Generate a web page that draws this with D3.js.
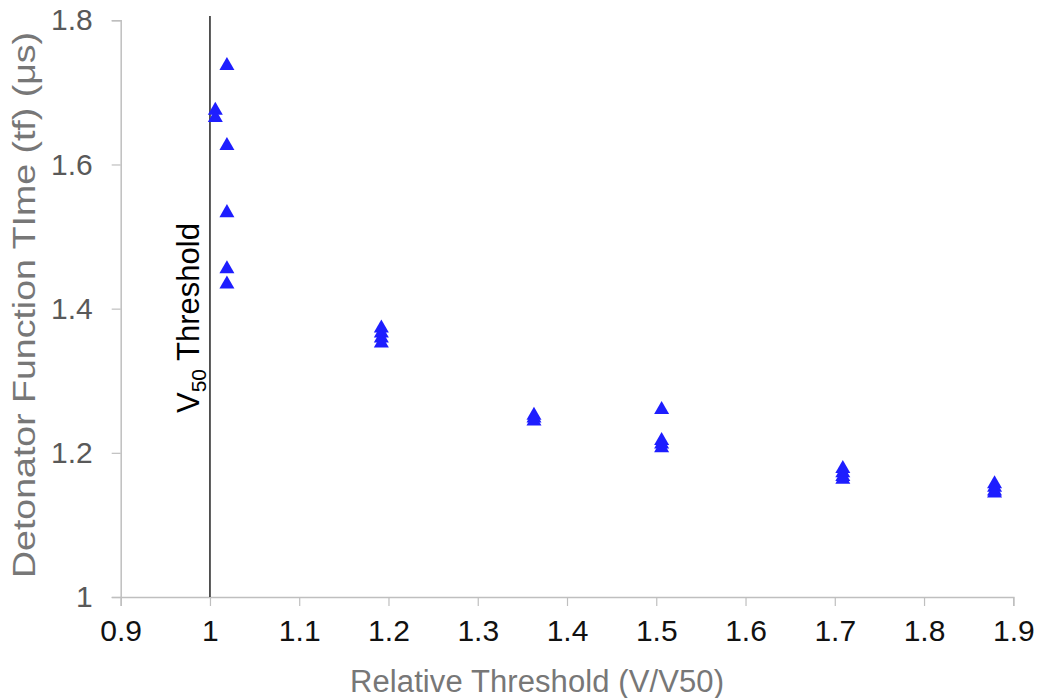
<!DOCTYPE html>
<html>
<head>
<meta charset="utf-8">
<script src="https://cdn.jsdelivr.net/npm/d3@7"></script>
<style>
  html, body { margin: 0; padding: 0; background: #fff; }
  svg { display: block; font-family: "Liberation Sans", Arial, Helvetica, sans-serif; }
</style>
</head>
<body>
<svg id="chart" width="1039" height="698"></svg>
<script>
// Relative threshold (V/V50) for each shot group
const relThreshold = [1.019, 1.006, 1.192, 1.363, 1.506, 1.709, 1.879];
// Detonator function time (µs) measured at each relative threshold
const functionTime = [
  [1.740, 1.629, 1.536, 1.458, 1.437],
  [1.678, 1.668],
  [1.376, 1.369, 1.362, 1.355],
  [1.255, 1.251, 1.247],
  [1.263, 1.220, 1.215, 1.210],
  [1.181, 1.175, 1.170, 1.166],
  [1.160, 1.155, 1.150, 1.147]
];
const xTicks = [0.9, 1, 1.1, 1.2, 1.3, 1.4, 1.5, 1.6, 1.7, 1.8, 1.9];
const yTicks = [1, 1.2, 1.4, 1.6, 1.8];
const v50 = 1.0;

const points = relThreshold.flatMap((x, i) => functionTime[i].map(y => ({ x, y })));

const svg = d3.select("#chart");

const x = d3.scaleLinear().domain([0.9, 1.9]).range([120.7, 1013.3]);
const y = d3.scaleLinear().domain([1, 1.8]).range([597, 20.3]);

const axisGrey = "#bfbfbf";

// x axis
const gx = svg.append("g")
  .attr("transform", `translate(0,${y(1)})`)
  .call(d3.axisBottom(x).tickValues(xTicks).tickSize(9).tickPadding(14)
    .tickFormat(d3.format("~g")));
gx.select(".domain").attr("stroke", axisGrey).attr("stroke-width", 1.5);
gx.selectAll(".tick line").attr("stroke", axisGrey).attr("stroke-width", 1.2);
gx.selectAll(".tick text")
  .attr("fill", "#111").attr("font-size", 30).attr("dy", "0.71em")
  .attr("font-family", "Liberation Sans, Arial, sans-serif");

// y axis
const gy = svg.append("g")
  .attr("transform", `translate(${x(0.9)},0)`)
  .call(d3.axisLeft(y).tickValues(yTicks).tickSize(9).tickPadding(19)
    .tickFormat(d3.format("~g")));
gy.select(".domain").attr("stroke", axisGrey).attr("stroke-width", 1.5);
gy.selectAll(".tick line").attr("stroke", axisGrey).attr("stroke-width", 1.2);
gy.selectAll(".tick text")
  .attr("fill", "#595959").attr("font-size", 30)
  .attr("font-family", "Liberation Sans, Arial, sans-serif");

// axis titles
svg.append("text")
  .attr("x", (x(0.9) + x(1.9)) / 2 - 30)
  .attr("y", 692)
  .attr("text-anchor", "middle")
  .attr("fill", "#777")
  .attr("font-size", 31)
  .attr("textLength", 374)
  .text("Relative Threshold (V/V50)");

svg.append("text")
  .attr("transform", "translate(35,305) rotate(-90)")
  .attr("text-anchor", "middle")
  .attr("fill", "#777")
  .attr("font-size", 32)
  .attr("textLength", 546)
  .attr("lengthAdjust", "spacingAndGlyphs")
  .text("Detonator Function TIme (tf) (μs)");

// V50 threshold reference line
svg.append("line")
  .attr("x1", x(v50)).attr("x2", x(v50))
  .attr("y1", 16).attr("y2", y(1))
  .attr("stroke", "#111").attr("stroke-width", 1.4);

const v50Label = svg.append("text")
  .attr("transform", `translate(199,413) rotate(-90)`)
  .attr("fill", "#000")
  .attr("font-size", 31);
v50Label.append("tspan").text("V");
v50Label.append("tspan").attr("font-size", 21).attr("dy", 7).text("50");
v50Label.append("tspan").attr("dy", -7).text(" Threshold");

// upward triangle marker, centred on its bounding box
const triangle = {
  draw(ctx, size) {
    const w = Math.sqrt(size), h = w * 0.87;
    ctx.moveTo(0, -h / 2);
    ctx.lineTo(w / 2, h / 2);
    ctx.lineTo(-w / 2, h / 2);
    ctx.closePath();
  }
};

svg.append("g")
  .selectAll("path")
  .data(points)
  .join("path")
  .attr("transform", d => `translate(${x(d.x)},${y(d.y)})`)
  .attr("d", d3.symbol().type(triangle).size(15 * 15))
  .attr("fill", "#1e1eff");
</script>
</body>
</html>
